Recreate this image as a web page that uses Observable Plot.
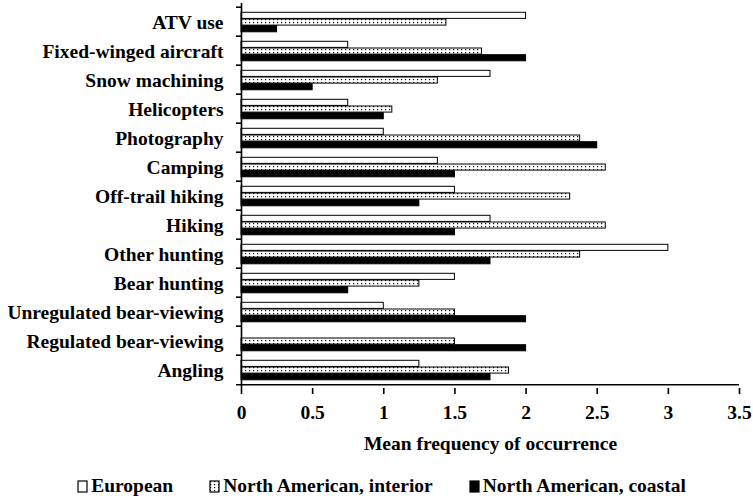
<!DOCTYPE html>
<html>
<head>
<meta charset="utf-8">
<script src="https://cdn.jsdelivr.net/npm/d3@7"></script>
<script src="https://cdn.jsdelivr.net/npm/@observablehq/plot@0.6"></script>
<style>
  html, body { margin: 0; padding: 0; background: #fff; }
  #chart svg { display: block; }
  .legend { display: flex; justify-content: center; align-items: center; gap: 36px;
    font-family: "Liberation Serif", "Times New Roman", serif; font-weight: bold; font-size: 19.5px;
    height: 28px; margin-left: 10px; }
  .legend span.item { display: flex; align-items: center; }
  .legend svg { margin-right: 3px; }
</style>
</head>
<body>
<div id="chart"></div>
<script>
const categories = ["ATV use", "Fixed-winged aircraft", "Snow machining", "Helicopters", "Photography",
  "Camping", "Off-trail hiking", "Hiking", "Other hunting", "Bear hunting",
  "Unregulated bear-viewing", "Regulated bear-viewing", "Angling"];
const seriesNames = ["European", "North American, interior", "North American, coastal"];
const european = [2.0, 0.75, 1.75, 0.75, 1.0, 1.38, 1.5, 1.75, 3.0, 1.5, 1.0, null, 1.25];
const interior = [1.44, 1.69, 1.38, 1.06, 2.38, 2.56, 2.31, 2.56, 2.38, 1.25, 1.5, 1.5, 1.88];
const coastal  = [0.25, 2.0, 0.5, 1.0, 2.5, 1.5, 1.25, 1.5, 1.75, 0.75, 2.0, 2.0, 1.75];
const xTicks = [0, 0.5, 1, 1.5, 2, 2.5, 3, 3.5];

const rows = (vals) => categories.map((c, i) => ({category: c, value: vals[i]})).filter(d => d.value != null);

const font = '"Liberation Serif", "Times New Roman", serif';
const W = 753, H = 472;
const mTop = 3, mBottom = 84;
const step = (H - mTop - mBottom) / categories.length;
const barH = 6.7, groupTop = 5.3;

const chart = Plot.plot({
  width: W, height: H,
  marginLeft: 241, marginRight: 14, marginTop: mTop, marginBottom: mBottom,
  style: {fontFamily: font, fontWeight: "bold", fontSize: "19.5px", color: "#000", background: "#fff"},
  x: {domain: [0, 3.5]},
  y: {domain: categories, padding: 0},
  marks: [
    Plot.barX(rows(european), {x: "value", y: "category", fill: "white", stroke: "black", strokeWidth: 1,
      insetTop: groupTop, insetBottom: step - groupTop - barH}),
    Plot.barX(rows(interior), {x: "value", y: "category", fill: "url(#dots)", stroke: "black", strokeWidth: 1,
      insetTop: groupTop + barH, insetBottom: step - groupTop - 2 * barH}),
    Plot.barX(rows(coastal), {x: "value", y: "category", fill: "black", stroke: "black", strokeWidth: 1,
      insetTop: groupTop + 2 * barH, insetBottom: step - groupTop - 3 * barH}),
    Plot.ruleX([0], {stroke: "black", strokeWidth: 1.6}),
    Plot.ruleY([categories[categories.length - 1]], {y: d => d, dy: step / 2, x1: 0, x2: 3.5, insetLeft: -5, stroke: "black", strokeWidth: 1.6}),
    Plot.axisY({tickSize: 0, tickPadding: 18, label: null, fontSize: "19.5px", fontWeight: "bold", dy: 1}),
    Plot.axisY({tickSize: 5, tickFormat: () => "", label: null, dy: -step / 2, strokeWidth: 1.6}),
    Plot.axisX({ticks: xTicks, tickFormat: d => String(d), tickSize: 6, tickPadding: 11, strokeWidth: 1.6,
      label: "Mean frequency of occurrence", labelAnchor: "center", labelArrow: "none", labelOffset: 61,
      fontSize: "19.5px", fontWeight: "bold"})
  ]
});

// pattern definition for the dotted series
const ns = "http://www.w3.org/2000/svg";
const defs = document.createElementNS(ns, "defs");
defs.innerHTML = `<pattern id="dots" patternUnits="userSpaceOnUse" width="4" height="3">
  <rect width="4" height="3" fill="white"/>
  <rect x="1" y="1" width="1.2" height="1.2" fill="black"/>
</pattern>`;
chart.insertBefore(defs, chart.firstChild);
document.getElementById("chart").appendChild(chart);

// legend
const legend = document.createElement("div");
legend.className = "legend";
const fills = ["white", "url(#dots)", "black"];
seriesNames.forEach((name, i) => {
  const item = document.createElement("span");
  item.className = "item";
  item.innerHTML = `<svg width="11" height="13"><rect x="1" y="1" width="9" height="11" fill="${fills[i]}" stroke="black" stroke-width="1.2"/></svg>${name}`;
  legend.appendChild(item);
});
document.body.appendChild(legend);
</script>
</body>
</html>
